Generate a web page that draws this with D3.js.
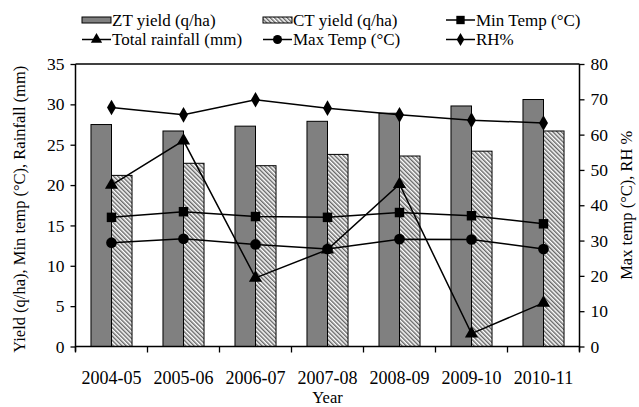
<!DOCTYPE html>
<html>
<head>
<meta charset="utf-8">
<script src="https://cdn.jsdelivr.net/npm/d3@7"></script>
<style>
  body { margin: 0; background: #fff; }
  text { font-family: "Liberation Serif", "Times New Roman", serif; fill: #000; }
</style>
</head>
<body>
<svg id="chart" width="639" height="407"></svg>
<script>
// data
var years = ["2004-05", "2005-06", "2006-07", "2007-08", "2008-09", "2009-10", "2010-11"];
var ztYield = [27.5, 26.7, 27.3, 27.9, 28.9, 29.8, 30.6];
var ctYield = [21.2, 22.7, 22.4, 23.8, 23.6, 24.2, 26.7];
var minTemp = [16.0, 16.7, 16.1, 16.0, 16.6, 16.2, 15.2];
var rainfall = [20.0, 25.5, 8.5, 12.0, 20.1, 1.6, 5.4];
var maxTemp = [29.4, 30.5, 28.9, 27.6, 30.4, 30.3, 27.6];
var rh = [67.7, 65.6, 69.9, 67.5, 65.6, 64.1, 63.3];
var leftTicks = [0, 5, 10, 15, 20, 25, 30, 35];
var rightTicks = [0, 10, 20, 30, 40, 50, 60, 70, 80];

var svg = d3.select('#chart');
var m = {left: 75.5, right: 579.5, top: 64, bottom: 346.5};

var x = d3.scaleBand().domain(years).range([m.left, m.right]);
var yL = d3.scaleLinear().domain([0, 35]).range([m.bottom, m.top]);
var yR = d3.scaleLinear().domain([0, 80]).range([m.bottom, m.top]);
var barW = x.bandwidth() * 0.285;

// hatch for CT bars
var defs = svg.append('defs');
var pat = defs.append('pattern')
  .attr('id', 'hatch')
  .attr('patternUnits', 'userSpaceOnUse')
  .attr('width', 3).attr('height', 3)
  .attr('patternTransform', 'rotate(-45)');
pat.append('rect').attr('width', 3).attr('height', 3).attr('fill', '#fff');
pat.append('line').attr('x1', 0.75).attr('y1', 0).attr('x2', 0.75).attr('y2', 3)
  .attr('stroke', '#555').attr('stroke-width', 1.3);

// bars
svg.append('g').selectAll('rect')
  .data(ztYield).enter().append('rect')
  .attr('x', function(d, i){ return x(years[i]) + x.bandwidth() / 2 - barW; })
  .attr('y', function(d){ return yL(d); })
  .attr('width', barW)
  .attr('height', function(d){ return m.bottom - yL(d); })
  .attr('fill', '#808080').attr('stroke', '#000').attr('stroke-width', 1);

svg.append('g').selectAll('rect')
  .data(ctYield).enter().append('rect')
  .attr('x', function(d, i){ return x(years[i]) + x.bandwidth() / 2; })
  .attr('y', function(d){ return yL(d); })
  .attr('width', barW)
  .attr('height', function(d){ return m.bottom - yL(d); })
  .attr('fill', 'url(#hatch)').attr('stroke', '#000').attr('stroke-width', 1);

// axes
var leftAxis = d3.axisLeft(yL).tickValues(leftTicks).tickSize(5).tickPadding(6);
var gl = svg.append('g').attr('transform', 'translate(' + m.left + ',0)').call(leftAxis);
var rightAxis = d3.axisRight(yR).tickValues(rightTicks).tickSize(5).tickPadding(6);
var gr = svg.append('g').attr('transform', 'translate(' + m.right + ',0)').call(rightAxis);
[gl, gr].forEach(function(g){
  g.select('.domain').attr('stroke', '#000').attr('stroke-width', 1.5)
    .attr('d', 'M0,' + m.top + 'V' + (m.bottom + 5));
  g.selectAll('.tick line').attr('stroke', '#000').attr('stroke-width', 1.3);
  g.selectAll('.tick text').style('font-size', '17.5px').attr('font-family', null);
});

// top frame line
svg.append('line')
  .attr('x1', m.left).attr('x2', m.right).attr('y1', m.top).attr('y2', m.top)
  .attr('stroke', '#000').attr('stroke-width', 1.5);

// x axis
var gx = svg.append('g').attr('transform', 'translate(0,' + m.bottom + ')');
gx.append('line').attr('x1', m.left).attr('x2', m.right)
  .attr('stroke', '#000').attr('stroke-width', 1.5);
gx.selectAll('line.tk').data(d3.range(years.length + 1)).enter().append('line')
  .attr('class', 'tk')
  .attr('x1', function(i){ return m.left + i * x.step(); })
  .attr('x2', function(i){ return m.left + i * x.step(); })
  .attr('y1', 0).attr('y2', 6)
  .attr('stroke', '#000').attr('stroke-width', 1.3);
gx.selectAll('text').data(years).enter().append('text')
  .attr('x', function(d){ return x(d) + x.bandwidth() / 2; })
  .attr('y', 37)
  .attr('text-anchor', 'middle')
  .style('font-size', '18px')
  .text(function(d){ return d; });

svg.append('text').attr('x', (m.left + m.right) / 2).attr('y', 403)
  .attr('text-anchor', 'middle').style('font-size', '16.5px').text('Year');

svg.append('text')
  .attr('transform', 'translate(25,' + ((m.top + m.bottom) / 2 + 4) + ') rotate(-90)')
  .attr('text-anchor', 'middle').style('font-size', '16.5px')
  .text('Yield (q/ha), Min temp (\u00b0C), Rainfall (mm)');

svg.append('text')
  .attr('transform', 'translate(632,' + (m.top + m.bottom) / 2 + ') rotate(-90)')
  .attr('text-anchor', 'middle').style('font-size', '16.5px')
  .text('Max temp (\u00b0C), RH %');

// line series
var cx = function(i){ return x(years[i]) + x.bandwidth() / 2; };
var series = [
  {name: 'Min Temp (\u00b0C)', values: minTemp, scale: yL, sym: d3.symbolSquare, size: 90},
  {name: 'Total rainfall (mm)', values: rainfall, scale: yL, sym: d3.symbolTriangle, size: 75},
  {name: 'Max Temp (\u00b0C)', values: maxTemp, scale: yR, sym: d3.symbolCircle, size: 90},
  {name: 'RH%', values: rh, scale: yR, sym: d3.symbolDiamond, size: 70}
];
series.forEach(function(s){
  var line = d3.line()
    .x(function(d, i){ return cx(i); })
    .y(function(d){ return s.scale(d); });
  svg.append('path').datum(s.values).attr('d', line)
    .attr('fill', 'none').attr('stroke', '#000').attr('stroke-width', 1.5);
  svg.append('g').selectAll('path').data(s.values).enter().append('path')
    .attr('transform', function(d, i){ return 'translate(' + cx(i) + ',' + s.scale(d) + ')'; })
    .attr('d', d3.symbol().type(s.sym).size(s.size))
    .attr('fill', '#000');
});

// legend
var legendItems = [
  {name: 'ZT yield (q/ha)', type: 'bar', fill: '#808080'},
  {name: 'CT yield (q/ha)', type: 'bar', fill: 'url(#hatch)'},
  {name: series[0].name, type: 'line', sym: series[0].sym, size: 70},
  {name: series[1].name, type: 'line', sym: series[1].sym, size: 55},
  {name: series[2].name, type: 'line', sym: series[2].sym, size: 65},
  {name: series[3].name, type: 'line', sym: series[3].sym, size: 50}
];
var colX = [82, 263, 446];
var rowY = [20, 39.5];
var lg = svg.append('g');
legendItems.forEach(function(d, i){
  var gx0 = colX[i % 3], gy = rowY[Math.floor(i / 3)];
  var g = lg.append('g').attr('transform', 'translate(' + gx0 + ',' + gy + ')');
  if (d.type === 'bar') {
    g.append('rect').attr('x', 0).attr('y', -3).attr('width', 29).attr('height', 6)
      .attr('fill', d.fill).attr('stroke', '#000').attr('stroke-width', 1);
  } else {
    g.append('line').attr('x1', 0).attr('x2', 29).attr('stroke', '#000').attr('stroke-width', 1.5);
    g.append('path').attr('transform', 'translate(14.5,0)')
      .attr('d', d3.symbol().type(d.sym).size(d.size)).attr('fill', '#000');
  }
  g.append('text').attr('x', 30).attr('y', 5.5).style('font-size', '17px').text(d.name);
});
</script>
</body>
</html>
